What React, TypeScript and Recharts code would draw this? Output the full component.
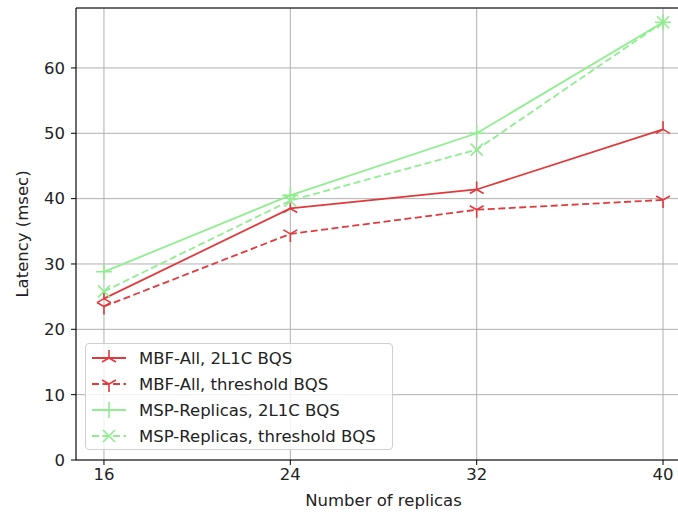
import { LineChart, Line, XAxis, YAxis, CartesianGrid, ReferenceLine } from 'recharts';

const replicas = [16, 24, 32, 40];
const mbfAll2l1c = [24.7, 38.5, 41.4, 50.6];
const mbfAllThreshold = [23.5, 34.6, 38.3, 39.8];
const mspReplicas2l1c = [28.8, 40.5, 50.0, 67.0];
const mspReplicasThreshold = [25.8, 39.7, 47.5, 67.0];

const xTicks = [16, 24, 32, 40];
const yTicks = [0, 10, 20, 30, 40, 50, 60];

const RED = '#e03a3c';
const GREEN = '#90ee90';

type MarkerKind = 'triUp' | 'triDown' | 'plus' | 'x';

const series: { key: string, name: string, values: number[], color: string, dashed: boolean, marker: MarkerKind }[] = [
  { key: 'mbf2', name: 'MBF-All, 2L1C BQS', values: mbfAll2l1c, color: RED, dashed: false, marker: 'triUp' },
  { key: 'mbfT', name: 'MBF-All, threshold BQS', values: mbfAllThreshold, color: RED, dashed: true, marker: 'triDown' },
  { key: 'msp2', name: 'MSP-Replicas, 2L1C BQS', values: mspReplicas2l1c, color: GREEN, dashed: false, marker: 'plus' },
  { key: 'mspT', name: 'MSP-Replicas, threshold BQS', values: mspReplicasThreshold, color: GREEN, dashed: true, marker: 'x' },
];

const data = replicas.map((r, i) => {
  const row: Record<string, number> = { replicas: r };
  series.forEach(s => { row[s.key] = s.values[i]; });
  return row;
});

function markerPath(kind: MarkerKind, cx: number, cy: number) {
  const r = 8;
  const a = r * 0.866, b = r * 0.5;
  switch (kind) {
    case 'triUp':
      return `M${cx},${cy}L${cx},${cy - r}M${cx},${cy}L${cx - a},${cy + b}M${cx},${cy}L${cx + a},${cy + b}`;
    case 'triDown':
      return `M${cx},${cy}L${cx},${cy + r}M${cx},${cy}L${cx - a},${cy - b}M${cx},${cy}L${cx + a},${cy - b}`;
    case 'plus':
      return `M${cx - r},${cy}L${cx + r},${cy}M${cx},${cy - r}L${cx},${cy + r}`;
    default: {
      const d = 6;
      return `M${cx - d},${cy - d}L${cx + d},${cy + d}M${cx - d},${cy + d}L${cx + d},${cy - d}`;
    }
  }
}

const makeDot = (kind: MarkerKind, color: string) => (props: any) => {
  const { cx, cy, key, index } = props;
  return <path key={key ?? index} d={markerPath(kind, cx, cy)} stroke={color} strokeWidth={1.6} fill="none" />;
};

const font = "'DejaVu Sans', sans-serif";
const fs = 16.5;
const yMax = 69.175;

export default function App() {
  return (
    <div style={{ position: 'fixed', left: 0, top: 0, width: 678, height: 513, overflow: 'hidden', background: '#fff', fontFamily: font }}>
      <LineChart width={700} height={513} data={data} margin={{ top: 8, right: 9, left: 0, bottom: 0 }}>
        <CartesianGrid stroke="#b0b0b0" strokeWidth={1} />
        <XAxis
          dataKey="replicas"
          type="number"
          domain={[14.8, 41.2]}
          ticks={xTicks}
          allowDataOverflow
          height={53}
          stroke="#000"
          tickSize={5}
          tickMargin={3}
          tick={{ fill: '#222', fontSize: fs, fontFamily: font }}
          label={{ value: 'Number of replicas', position: 'insideBottom', offset: 7, fill: '#222', fontSize: fs, fontFamily: font }}
        />
        <YAxis
          type="number"
          domain={[0, yMax]}
          ticks={yTicks}
          allowDataOverflow
          width={76}
          stroke="#000"
          tickSize={5}
          tickMargin={6}
          tick={{ fill: '#222', fontSize: fs, fontFamily: font }}
          label={{
            content: (p: any) => {
              const vb = p.viewBox;
              const x = vb.x + 22;
              const y = vb.y + vb.height / 2;
              return (
                <text x={x} y={y} transform={`rotate(-90 ${x} ${y})`} textAnchor="middle" dominantBaseline="central" fill="#222" fontSize={fs} fontFamily={font}>
                  Latency (msec)
                </text>
              );
            },
          }}
        />
        <ReferenceLine y={yMax} stroke="#000" strokeWidth={1} />
        {series.map(s => (
          <Line
            key={s.key}
            dataKey={s.key}
            name={s.name}
            stroke={s.color}
            strokeWidth={1.8}
            strokeDasharray={s.dashed ? '7 3.5' : undefined}
            dot={makeDot(s.marker, s.color)}
            activeDot={false}
            isAnimationActive={false}
          />
        ))}
      </LineChart>
      <div style={{
        position: 'absolute', left: 85, top: 343, width: 308, height: 107,
        background: 'rgba(255,255,255,0.8)', border: '1px solid #d0d0d0', borderRadius: 4, boxSizing: 'border-box',
      }}>
        {series.map((s, i) => (
          <div key={s.key} style={{ position: 'absolute', left: 5, top: 3 + i * 26, height: 22, display: 'flex', alignItems: 'center' }}>
            <svg width={36} height={22}>
              <line x1={1} y1={11} x2={35} y2={11} stroke={s.color} strokeWidth={1.8} strokeDasharray={s.dashed ? '7 3.5' : undefined} />
              <path d={markerPath(s.marker, 18, 11)} stroke={s.color} strokeWidth={1.6} fill="none" />
            </svg>
            <span style={{ marginLeft: 12, fontSize: fs, color: '#222', whiteSpace: 'nowrap' }}>{s.name}</span>
          </div>
        ))}
      </div>
    </div>
  );
}
